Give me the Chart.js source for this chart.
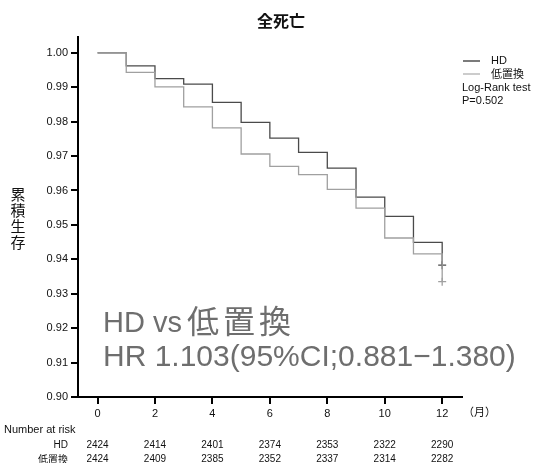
<!DOCTYPE html>
<html>
<head>
<meta charset="utf-8">
<script src="https://cdn.jsdelivr.net/npm/chart.js@4"></script>
<style>
  html, body { margin: 0; padding: 0; background: #fff; }
  #wrap { width: 545px; height: 463px; }
</style>
</head>
<body>
<div id="wrap"><canvas id="km"></canvas></div>
<script>
// months and survival values
const months = [0, 1, 2, 3, 4, 5, 6, 7, 8, 9, 10, 11, 12];
const hdSurv = [1.000, 0.9962, 0.9925, 0.9909, 0.9856, 0.9798, 0.9752, 0.9711, 0.9665, 0.9581, 0.9525, 0.9449, 0.9383];
const lowSurv = [1.000, 0.9943, 0.9901, 0.9843, 0.9782, 0.9706, 0.9670, 0.9646, 0.9603, 0.9549, 0.9462, 0.9416, 0.9335];

// axis ticks
const xTicks = [0, 2, 4, 6, 8, 10, 12];
const yTicks = [0.90, 0.91, 0.92, 0.93, 0.94, 0.95, 0.96, 0.97, 0.98, 0.99, 1.00];

// number at risk
const riskMonths = [0, 2, 4, 6, 8, 10, 12];
const hdRisk = [2424, 2414, 2401, 2374, 2353, 2322, 2290];
const lowRisk = [2424, 2409, 2385, 2352, 2337, 2314, 2282];

const FONT = '"Liberation Sans", Arial, "Noto Sans CJK JP", sans-serif';
const JP = '"Noto Sans CJK JP", "Liberation Sans", sans-serif';

const toPoints = (vals) => months.map((m, i) => ({ x: m, y: vals[i] }));
const lastOnly = (r) => months.map((m, i) => i === months.length - 1 ? r : 0);

// texts around the plot
const extras = {
  id: 'extras',
  afterDraw(chart) {
    const ctx = chart.ctx;
    const xs = chart.scales.x;
    ctx.save();
    ctx.fillStyle = '#111';

    // title
    ctx.font = 'bold 16px ' + JP;
    ctx.textAlign = 'center';
    ctx.textBaseline = 'middle';
    ctx.fillText('全死亡', 281, 21);

    // y title, one char per line
    ctx.font = '15px ' + JP;
    ['累', '積', '生', '存'].forEach((c, i) => ctx.fillText(c, 18, 194 + i * 16));

    // legend
    ctx.lineWidth = 1.2;
    ctx.strokeStyle = '#222';
    ctx.beginPath(); ctx.moveTo(463, 61); ctx.lineTo(480, 61); ctx.stroke();
    ctx.strokeStyle = '#aaa';
    ctx.beginPath(); ctx.moveTo(463, 74); ctx.lineTo(480, 74); ctx.stroke();
    ctx.textAlign = 'left';
    ctx.font = '11px ' + FONT;
    ctx.fillText('HD', 491, 61);
    ctx.font = '11px ' + JP;
    ctx.fillText('低置換', 491, 74);
    ctx.font = '11px ' + FONT;
    ctx.fillText('Log-Rank test', 462, 88);
    ctx.fillText('P=0.502', 462, 101);

    // big HR text
    ctx.fillStyle = '#6e6e6e';
    ctx.textBaseline = 'alphabetic';
    ctx.font = '29px ' + FONT;
    ctx.fillText('HD vs', 103, 332);
    ctx.font = '32px ' + JP;
    ctx.letterSpacing = '4px';
    ctx.fillText('低置換', 187, 333);
    ctx.letterSpacing = '0px';
    ctx.font = '30px ' + FONT;
    ctx.fillText('HR 1.103(95%CI;0.881−1.380)', 103, 366);

    // unit
    ctx.fillStyle = '#111';
    ctx.textBaseline = 'middle';
    ctx.font = '11px ' + JP;
    ctx.fillText('（月）', 463, 412);

    // number at risk table
    ctx.font = '11px ' + FONT;
    ctx.fillText('Number at risk', 4, 430);
    ctx.textAlign = 'right';
    ctx.font = '10px ' + FONT;
    ctx.fillText('HD', 68, 445);
    ctx.font = '10px ' + JP;
    ctx.fillText('低置換', 68, 459);
    ctx.font = '10px ' + FONT;
    ctx.textAlign = 'center';
    riskMonths.forEach((m, i) => {
      const px = xs.getPixelForValue(m);
      ctx.fillText(String(hdRisk[i]), px, 445);
      ctx.fillText(String(lowRisk[i]), px, 459);
    });
    ctx.restore();
  }
};

new Chart(document.getElementById('km'), {
  type: 'line',
  data: {
    datasets: [
      {
        label: '低置換',
        data: toPoints(lowSurv),
        stepped: true,
        borderColor: '#a0a0a0',
        borderWidth: 1.3,
        pointStyle: 'cross',
        pointRadius: lastOnly(4),
        pointBorderColor: '#a0a0a0',
        pointBorderWidth: 1.3,
        fill: false
      },
      {
        label: 'HD',
        data: toPoints(hdSurv),
        stepped: true,
        borderColor: '#4a4a4a',
        borderWidth: 1.3,
        pointStyle: 'cross',
        pointRadius: lastOnly(4),
        pointBorderColor: '#4a4a4a',
        pointBorderWidth: 1.3,
        fill: false
      }
    ]
  },
  options: {
    responsive: true,
    maintainAspectRatio: false,
    animation: false,
    layout: { padding: { top: 37, right: 83, left: 0, bottom: 0 } },
    plugins: {
      legend: { display: false },
      tooltip: { enabled: false },
      title: { display: false }
    },
    scales: {
      x: {
        type: 'linear',
        min: -0.68,
        max: 12.69,
        afterBuildTicks: (s) => { s.ticks = xTicks.map(v => ({ value: v })); },
        afterFit: (s) => { s.height = 66; },
        border: { display: true, color: '#000', width: 2 },
        grid: { drawOnChartArea: false, drawTicks: true, tickLength: 7, color: '#000', lineWidth: 2 },
        ticks: { color: '#111', font: { family: FONT, size: 11 }, padding: 3, maxRotation: 0 }
      },
      y: {
        min: 0.9,
        max: 1.0046,
        afterBuildTicks: (s) => { s.ticks = yTicks.map(v => ({ value: v })); },
        afterFit: (s) => { s.width = 78; },
        border: { display: true, color: '#000', width: 2 },
        grid: { drawOnChartArea: false, drawTicks: true, tickLength: 7, color: '#000', lineWidth: 2 },
        ticks: {
          color: '#111',
          font: { family: FONT, size: 11 },
          padding: 3,
          callback: (v) => Number(v).toFixed(2)
        }
      }
    }
  },
  plugins: [extras]
});
</script>
</body>
</html>
